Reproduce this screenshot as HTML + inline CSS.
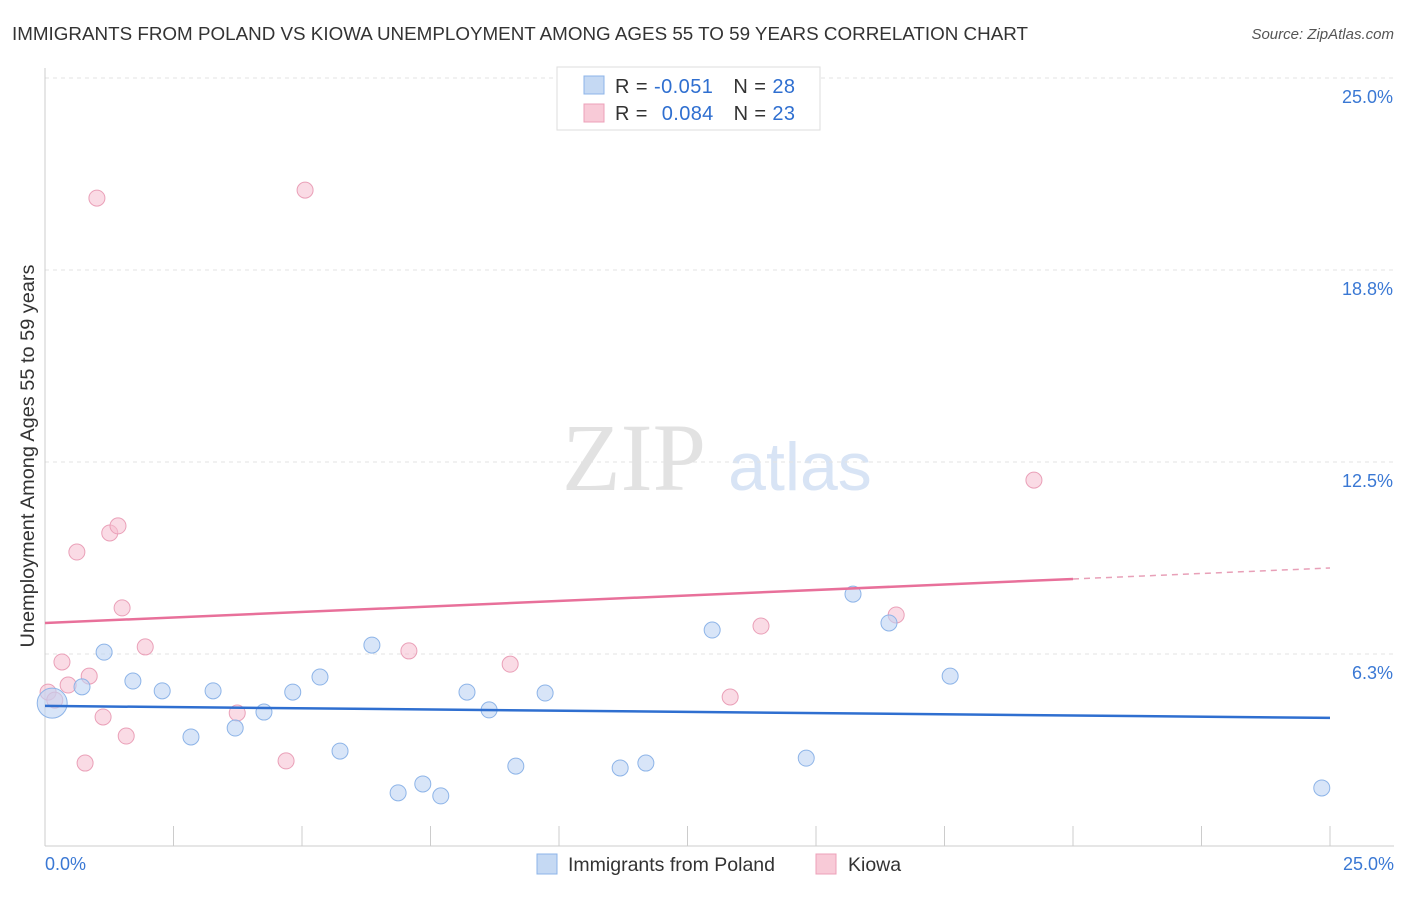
<!DOCTYPE html>
<html><head><meta charset="utf-8"><style>
body{margin:0;background:#fff;font-family:"Liberation Sans",sans-serif;}
</style></head><body>
<svg id="chart" width="1406" height="892" xmlns="http://www.w3.org/2000/svg">
<text x="12" y="40" font-size="18.5" fill="#333" textLength="1016" lengthAdjust="spacingAndGlyphs">IMMIGRANTS FROM POLAND VS KIOWA UNEMPLOYMENT AMONG AGES 55 TO 59 YEARS CORRELATION CHART</text>
<text x="1394" y="39" font-size="15" fill="#555" font-style="italic" text-anchor="end">Source: ZipAtlas.com</text>
<text x="634" y="490" font-size="96" fill="#e2e2e2" font-family="Liberation Serif,serif" text-anchor="middle">ZIP</text>
<text x="800" y="490" font-size="68" fill="#d8e4f5" text-anchor="middle">atlas</text>
<g id="grid"></g>
<g id="axes"></g>
<g id="marks"></g>
<text transform="translate(34,456) rotate(-90)" font-size="19" fill="#333" text-anchor="middle" textLength="383" lengthAdjust="spacingAndGlyphs">Unemployment Among Ages 55 to 59 years</text>
<g>
<rect x="557" y="67" width="263" height="63" fill="#fff" stroke="#ddd"/>
<rect x="584" y="76" width="20" height="18" fill="#c5d9f3" stroke="#8db4e8"/>
<rect x="584" y="104" width="20" height="18" fill="#f8cad7" stroke="#eda0b8"/>
<text x="615" y="93" font-size="20" fill="#333" textLength="180" lengthAdjust="spacing">R = <tspan fill="#2f6fd0">-0.051</tspan>  <tspan dx="14">N = </tspan><tspan fill="#2f6fd0">28</tspan></text>
<text x="615" y="120" font-size="20" fill="#333" textLength="180" lengthAdjust="spacing">R = <tspan fill="#2f6fd0" dx="8">0.084</tspan>  <tspan dx="14">N = </tspan><tspan fill="#2f6fd0">23</tspan></text>
</g>
<g>
<rect x="537" y="854" width="20" height="20" fill="#c5d9f3" stroke="#8db4e8"/>
<text x="568" y="871" font-size="19.5" fill="#333">Immigrants from Poland</text>
<rect x="816" y="854" width="20" height="20" fill="#f8cad7" stroke="#eda0b8"/>
<text x="848" y="871" font-size="19.5" fill="#333">Kiowa</text>
</g>
</svg>
<script>
const yTicks=[6.25,12.5,18.75,25];
const yTickLabels=["6.3%","12.5%","18.8%","25.0%"];
const polandX=[0.14,0.72,1.15,1.71,2.28,2.84,3.27,3.70,4.26,4.82,5.35,5.74,6.36,6.87,7.35,7.70,8.21,8.64,9.16,9.73,11.19,11.69,12.98,14.81,15.72,16.42,17.61,24.84];
const polandY=[4.65,5.18,6.31,5.37,5.05,3.55,5.05,3.84,4.36,5.01,5.50,3.09,6.54,1.73,2.02,1.63,5.01,4.43,2.60,4.98,2.54,2.70,7.03,2.86,8.20,7.26,5.53,1.89];
const kiowaX=[0.06,0.19,0.33,0.45,0.62,0.78,0.86,1.01,1.13,1.26,1.42,1.50,1.58,1.95,3.74,4.69,5.06,7.08,9.05,13.33,13.93,16.56,19.24];
const kiowaY=[5.01,4.75,5.99,5.24,9.57,2.70,5.53,21.09,4.20,10.19,10.42,7.75,3.58,6.48,4.33,2.77,21.35,6.35,5.92,4.85,7.16,7.52,11.91];
const polandTrend=[4.56,4.17];
const kiowaTrend=[7.26,9.05];
const kiowaSolidEnd=20;
const NS="http://www.w3.org/2000/svg";
const X=v=>45+v/25*1285, Y=v=>846-v/25*768;
function mk(tag,attrs,parent){const e=document.createElementNS(NS,tag);for(const k in attrs)e.setAttribute(k,attrs[k]);document.getElementById(parent).appendChild(e);return e;}
yTicks.forEach((t,i)=>{
 const l=mk('line',{x1:45,x2:1394,y1:Y(t),y2:Y(t),stroke:'#e3e3e3','stroke-dasharray':'4,4'},'grid');
 
 
 const tx=mk('text',{x:1393,y:Y(t)+25,'font-size':18,fill:'#3a78d4','text-anchor':'end'},'grid');
 tx.textContent=yTickLabels[i];
 
 
});
const ax=mk('line',{x1:45,x2:1394,y1:846,y2:846,stroke:'#ccc'},'axes');


const ay=mk('line',{x1:45,x2:45,y1:68,y2:846,stroke:'#ccc'},'axes');


for(let i=0;i<=10;i++){const t=mk('line',{x1:X(i*2.5),x2:X(i*2.5),y1:826,y2:846,stroke:'#ccc'},'axes');
 
 }
[["0.0%",45,'start'],["25.0%",1394,'end']].forEach(a=>{const t=mk('text',{x:a[1],y:870,'font-size':18,fill:'#3a78d4','text-anchor':a[2]},'axes');t.textContent=a[0];
 
 });
kiowaX.forEach((x,i)=>{const c=mk('circle',{cx:X(x),cy:Y(kiowaY[i]),r:8,fill:'rgba(246,190,208,0.55)',stroke:'#eaa0b8','stroke-width':1},'marks');
 
 });
polandX.forEach((x,i)=>{const c=mk('circle',{cx:X(x),cy:Y(polandY[i]),r:i==0?15:8,fill:'rgba(190,212,243,0.6)',stroke:'#8db4e8','stroke-width':1},'marks');
 
 });
const pl=mk('line',{x1:X(0),y1:Y(polandTrend[0]),x2:X(25),y2:Y(polandTrend[1]),stroke:'#2f6fd0','stroke-width':2.5},'marks');


const kmid=kiowaTrend[0]+(kiowaTrend[1]-kiowaTrend[0])*kiowaSolidEnd/25;
const kl=mk('line',{x1:X(0),y1:Y(kiowaTrend[0]),x2:X(kiowaSolidEnd),y2:Y(kmid),stroke:'#e8709a','stroke-width':2.5},'marks');


const kd=mk('line',{x1:X(kiowaSolidEnd),y1:Y(kmid),x2:X(25),y2:Y(kiowaTrend[1]),stroke:'#e8a0b8','stroke-width':1.5,'stroke-dasharray':'6,5'},'marks');


</script>
</body></html>
